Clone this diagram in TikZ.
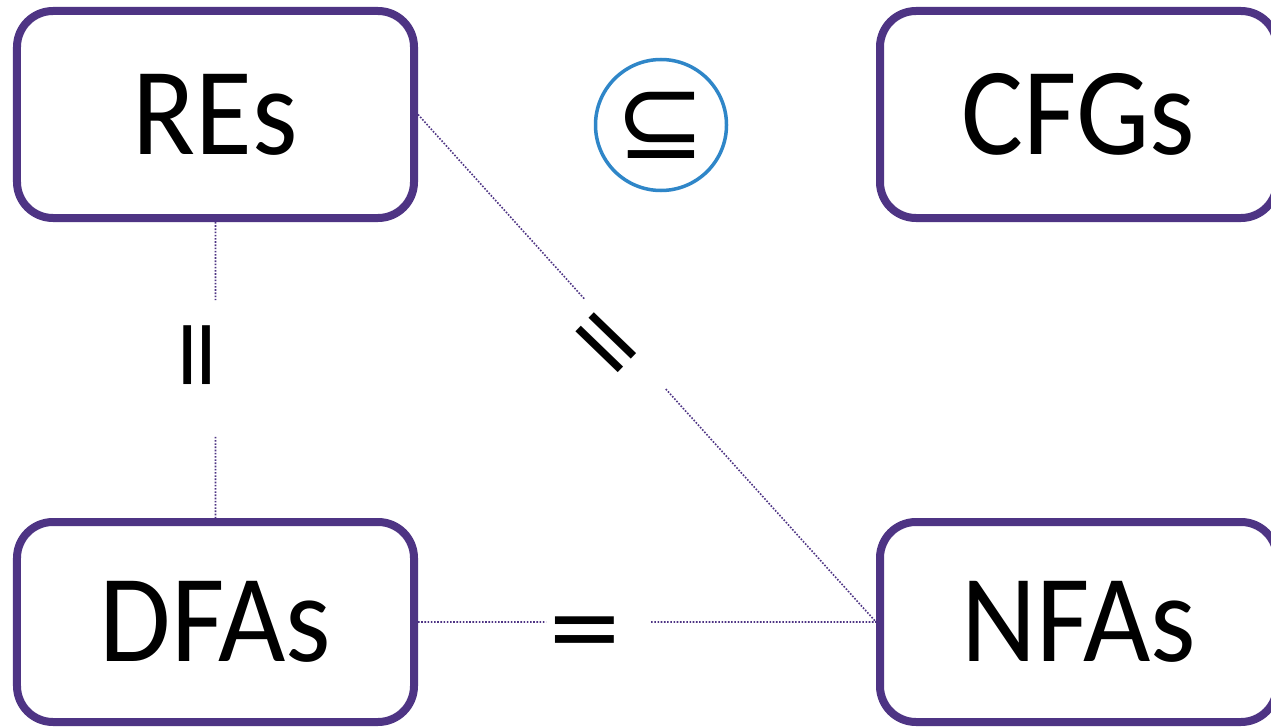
\documentclass[tikz,border=0pt]{standalone}
\usepackage{fontspec}
\setmainfont{Carlito}[FakeStretch=0.93]
\newfontfamily\symfont{DejaVu Sans}
\usetikzlibrary{calc}
\definecolor{boxpurple}{RGB}{78,52,132}
\definecolor{circblue}{RGB}{47,134,200}
\tikzset{
  setbox/.style={draw=boxpurple, line width=8bp, rounded corners=36bp, fill=white,
    minimum width=397bp, minimum height=207bp, inner sep=0pt,
    font=\fontsize{125bp}{130bp}\selectfont},
  relline/.style={draw=boxpurple, line width=1.6bp, dash pattern=on 1.6bp off 1.6bp},
  relsym/.style={inner sep=0pt, font=\symfont\fontsize{94bp}{100bp}\selectfont},
  subcirc/.style={circle, draw=circblue, line width=3.5bp, minimum size=131bp, inner sep=0pt,
    font=\symfont\fontsize{108bp}{112bp}\selectfont}
}
\begin{document}
\begin{tikzpicture}[x=1bp,y=-1bp]
\clip (0,0) rectangle (1271,728);
\fill[white] (0,0) rectangle (1271,728);
\node[setbox] (REs)  at (215.5,114.5) {REs};
\node[setbox] (CFGs) at (1078.5,114.5) {CFGs};
\node[setbox, minimum height=200bp] (DFAs) at (215.5,622) {DFAs};
\node[setbox, minimum height=200bp] (NFAs) at (1078.5,622) {NFAs};
\node[subcirc] (sub) at (661,125) {\raisebox{-4bp}{⊆}};
% vertical REs = DFAs
\coordinate (v1) at ($(REs.south)!0.264!(DFAs.north)$);
\coordinate (v2) at ($(REs.south)!0.726!(DFAs.north)$);
\draw[relline] (REs.south) -- (v1);
\draw[relline] (v2) -- (DFAs.north);
\node[relsym, rotate=90] (eqv) at (205,355) {=};
% diagonal REs = NFAs
\coordinate (d1) at ($(REs.east)!0.363!(NFAs.west)$);
\coordinate (d2) at ($(REs.east)!0.541!(NFAs.west)$);
\draw[relline] (REs.east) -- (d1);
\draw[relline] (d2) -- (NFAs.west);
\node[relsym, rotate=-44] (eqd) at (601,349) {=};
% horizontal DFAs = NFAs
\coordinate (h1) at ($(DFAs.east)!0.28!(NFAs.west)$);
\coordinate (h2) at ($(DFAs.east)!0.509!(NFAs.west)$);
\draw[relline] (DFAs.east) -- (h1);
\draw[relline] (h2) -- (NFAs.west);
\node[relsym] (eqh) at (585,638) {=};
\end{tikzpicture}
\end{document}
